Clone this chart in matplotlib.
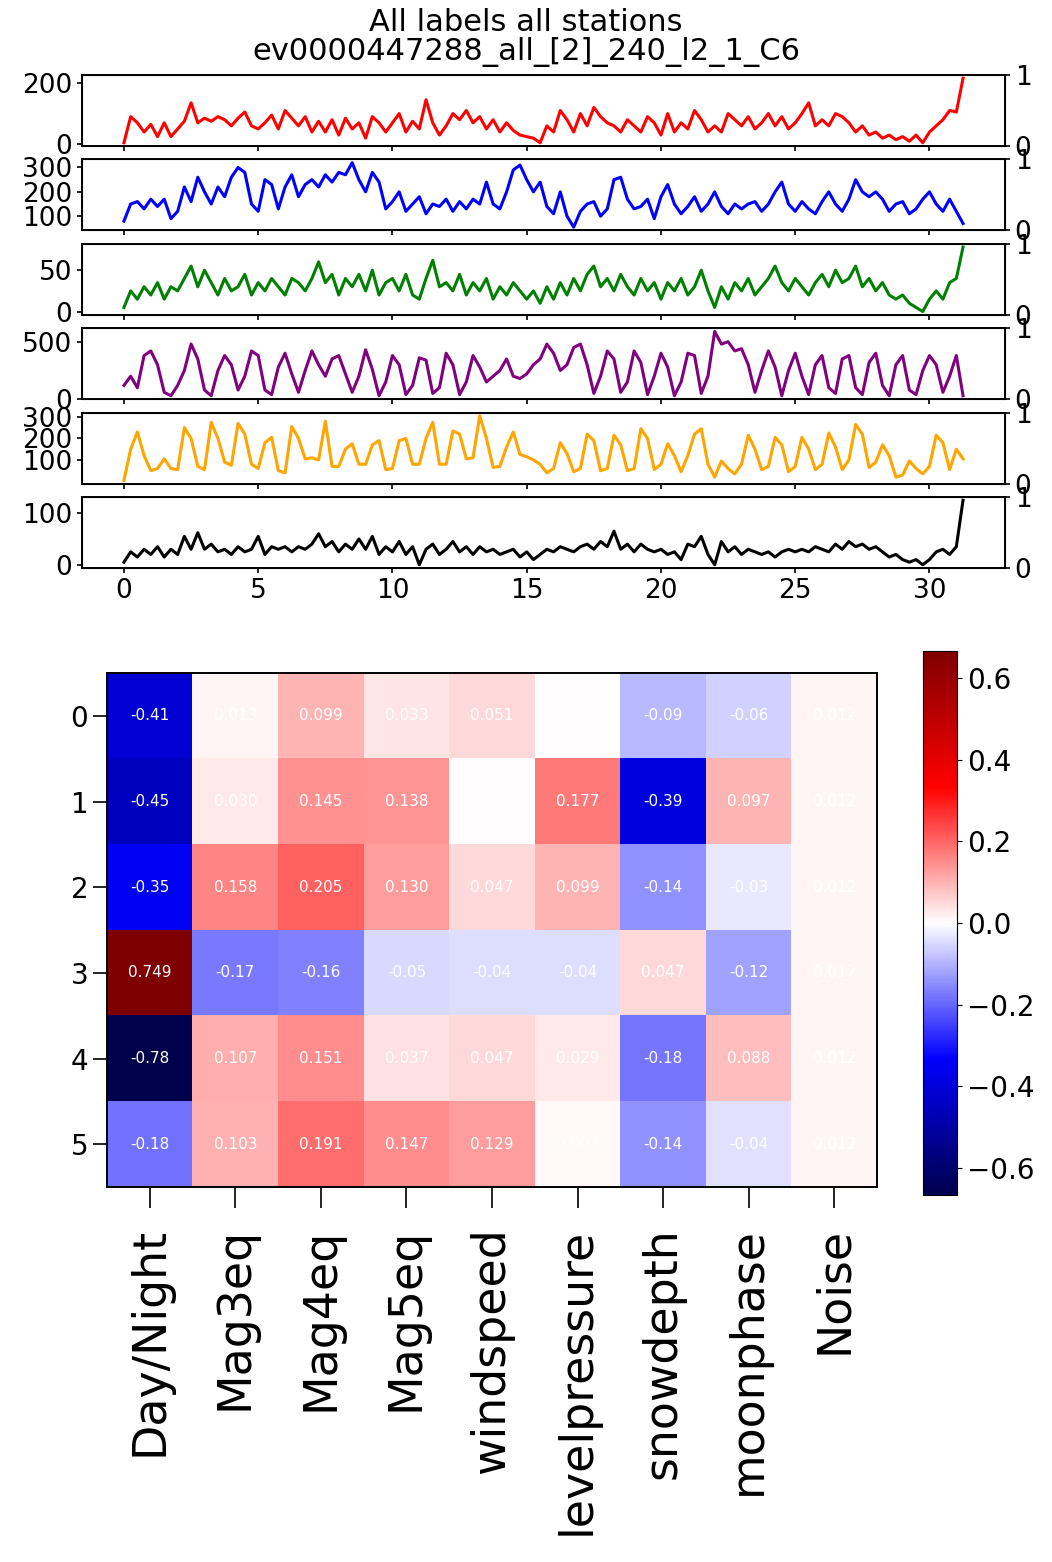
import matplotlib
matplotlib.use("Agg")
import matplotlib.pyplot as plt
import numpy as np

W, H = 1052, 1562

# time axis: quarter-day steps, 0 .. 31.25 days
days = np.arange(126) * 0.25

red = [5, 90, 70, 40, 65, 25, 70, 25, 50, 75, 135, 70, 85, 75, 90, 80,
       60, 85, 105, 60, 50, 70, 95, 50, 110, 85, 60, 90, 40, 75, 40, 80,
       30, 85, 50, 70, 20, 90, 70, 40, 70, 100, 40, 75, 50, 145, 70, 30,
       60, 100, 80, 110, 70, 90, 50, 80, 40, 70, 45, 30, 25, 20, 5, 60,
       40, 110, 80, 40, 100, 60, 120, 90, 70, 60, 40, 80, 60, 40, 90, 70,
       30, 100, 40, 70, 50, 110, 80, 40, 60, 40, 100, 80, 60, 90, 50, 70,
       100, 60, 90, 50, 70, 100, 135, 60, 80, 60, 100, 90, 70, 40, 60, 30,
       40, 20, 30, 15, 25, 10, 30, 5, 40, 60, 80, 110, 105, 215]

blue = [80, 150, 160, 130, 170, 140, 170, 90, 120, 220, 160, 260, 200, 150, 220, 180,
        260, 300, 280, 150, 120, 250, 230, 130, 220, 270, 180, 230, 250, 220, 270, 240,
        280, 270, 320, 250, 200, 280, 240, 130, 160, 200, 120, 150, 180, 110, 150, 140,
        170, 120, 160, 130, 170, 150, 240, 150, 130, 200, 290, 310, 250, 200, 240, 140,
        110, 200, 100, 55, 120, 150, 160, 100, 130, 250, 260, 170, 130, 140, 170, 90,
        180, 230, 150, 110, 140, 180, 120, 150, 200, 140, 110, 150, 130, 150, 160, 120,
        150, 200, 240, 150, 120, 160, 130, 110, 160, 200, 150, 120, 170, 250, 200, 180,
        200, 170, 120, 150, 160, 110, 130, 170, 200, 150, 120, 170, 120, 70]

green = [5, 25, 15, 30, 20, 35, 15, 30, 25, 40, 55, 30, 50, 35, 20, 40,
         25, 30, 45, 20, 35, 25, 40, 30, 20, 40, 35, 25, 40, 60, 35, 45,
         20, 40, 30, 45, 25, 50, 20, 35, 40, 25, 45, 20, 15, 40, 62, 30,
         35, 25, 45, 20, 35, 25, 40, 15, 30, 20, 35, 25, 15, 25, 10, 30,
         15, 35, 20, 40, 25, 45, 55, 30, 40, 25, 45, 30, 20, 40, 25, 35,
         15, 35, 25, 40, 20, 30, 50, 25, 5, 30, 15, 35, 25, 40, 20, 30,
         40, 55, 35, 25, 40, 30, 20, 35, 45, 30, 50, 35, 40, 55, 30, 40,
         25, 35, 20, 15, 20, 10, 5, 0, 15, 25, 15, 35, 40, 78]

purple = [120, 200, 100, 380, 420, 300, 60, 30, 120, 250, 480, 350, 80, 30, 250, 380,
          300, 80, 200, 420, 380, 80, 40, 280, 400, 220, 60, 250, 420, 300, 200, 350,
          380, 220, 60, 200, 430, 260, 30, 150, 380, 300, 40, 120, 360, 340, 50, 100,
          400, 300, 40, 150, 380, 280, 150, 200, 250, 350, 200, 180, 220, 300, 350, 480,
          400, 250, 300, 450, 480, 300, 50, 200, 420, 350, 60, 150, 420, 320, 40, 200,
          400, 280, 30, 150, 400, 380, 50, 200, 590, 480, 500, 420, 440, 300, 60, 250,
          420, 280, 30, 250, 400, 200, 40, 300, 380, 100, 50, 350, 380, 100, 40, 320,
          400, 120, 30, 300, 380, 80, 40, 250, 380, 300, 60, 200, 380, 30]

orange = [5, 150, 230, 120, 50, 60, 105, 60, 55, 250, 200, 70, 55, 275, 200, 90,
          75, 270, 220, 80, 60, 180, 205, 50, 40, 255, 200, 105, 110, 100, 280, 70,
          70, 150, 175, 80, 80, 170, 190, 55, 60, 190, 200, 80, 80, 200, 275, 80,
          80, 235, 220, 105, 110, 305, 200, 65, 70, 160, 230, 125, 115, 100, 80, 40,
          60, 180, 130, 45, 60, 220, 190, 50, 60, 215, 170, 50, 60, 245, 200, 55,
          80, 175, 120, 45, 120, 220, 245, 80, 20, 95, 60, 35, 80, 215, 150, 55,
          70, 205, 170, 45, 70, 205, 150, 55, 80, 225, 160, 55, 100, 265, 220, 65,
          90, 170, 120, 20, 30, 95, 60, 35, 70, 215, 180, 55, 150, 105]

black = [5, 25, 15, 30, 20, 35, 15, 30, 20, 55, 30, 62, 30, 40, 25, 30,
         20, 35, 25, 30, 55, 20, 35, 30, 35, 25, 35, 30, 40, 60, 35, 45,
         25, 40, 30, 50, 30, 55, 20, 35, 25, 45, 20, 35, 0, 30, 40, 20,
         30, 45, 25, 35, 20, 35, 25, 30, 20, 25, 30, 15, 25, 10, 20, 30,
         25, 35, 30, 25, 35, 40, 30, 45, 35, 65, 30, 40, 25, 40, 30, 25,
         30, 20, 25, 10, 40, 35, 55, 20, 0, 45, 25, 35, 20, 30, 25, 20,
         25, 15, 25, 30, 25, 30, 25, 35, 30, 25, 40, 30, 45, 35, 40, 30,
         35, 25, 15, 20, 10, 5, 10, 0, 10, 25, 30, 20, 35, 125]

series = [red, blue, green, purple, orange, black]
colors = ["red", "blue", "green", "purple", "orange", "black"]
yticks = [[0, 200], [100, 200, 300], [0, 50], [0, 500], [100, 200, 300], [0, 100]]

features = ["Day/Night", "Mag3eq", "Mag4eq", "Mag5eq", "windspeed",
            "levelpressure", "snowdepth", "moonphase", "Noise"]
corr = np.array([
    [-0.413, 0.013, 0.099, 0.033, 0.051, 0.001, -0.092, -0.061, 0.012],
    [-0.452, 0.030, 0.145, 0.138, 0.004, 0.177, -0.391, 0.097, 0.012],
    [-0.354, 0.158, 0.205, 0.130, 0.047, 0.099, -0.143, -0.031, 0.012],
    [0.749, -0.172, -0.163, -0.051, -0.043, -0.042, 0.047, -0.122, 0.012],
    [-0.781, 0.107, 0.151, 0.037, 0.047, 0.029, -0.182, 0.088, 0.012],
    [-0.183, 0.103, 0.191, 0.147, 0.129, 0.007, -0.142, -0.041, 0.012],
])


def box(x0, y0, x1, y1):
    return [x0 / W, 1 - y1 / H, (x1 - x0) / W, (y1 - y0) / H]


fig = plt.figure(figsize=(W / 100, H / 100), dpi=100)
fig.suptitle("All labels all stations\nev0000447288_all_[2]_240_l2_1_C6",
             fontsize=22, y=0.995, linespacing=1.0)

for i, (vals, c) in enumerate(zip(series, colors)):
    top = 75 + i * 84.4
    ax = fig.add_axes(box(82, top, 1005, top + 71))
    ax.plot(days, vals, color=c, lw=2.2)
    ax.set_yticks(yticks[i])
    ax.tick_params(labelsize=19, width=1.2)
    ax.set_xticks(range(0, 31, 5))
    if i < 5:
        ax.tick_params(labelbottom=False)
    for s in ax.spines.values():
        s.set_linewidth(1.4)
    tw = ax.twinx()
    tw.set_ylim(0, 1)
    tw.set_yticks([0, 1])
    tw.tick_params(labelsize=19, width=1.2)

# heatmap
hax = fig.add_axes(box(107, 673, 877, 1187))
im = hax.imshow(corr, cmap="seismic", vmin=-0.667, vmax=0.667, aspect="auto")
for r in range(corr.shape[0]):
    for c in range(corr.shape[1]):
        hax.text(c, r, f"{corr[r, c]:.3f}"[:5], ha="center", va="center",
                 color="white", fontsize=11)
hax.set_xticks(range(len(features)))
hax.set_xticklabels(features, rotation=90, fontsize=33)
hax.set_yticks(range(corr.shape[0]))
hax.tick_params(axis="y", labelsize=20, length=10, width=1.2)
hax.tick_params(axis="x", length=15, width=1.2, pad=14)
for s in hax.spines.values():
    s.set_linewidth(1.4)

cax = fig.add_axes(box(923, 651, 957, 1195))
cb = fig.colorbar(im, cax=cax, ticks=[-0.6, -0.4, -0.2, 0.0, 0.2, 0.4, 0.6])
cb.ax.tick_params(labelsize=20)

fig.savefig("out.png", dpi=100)
